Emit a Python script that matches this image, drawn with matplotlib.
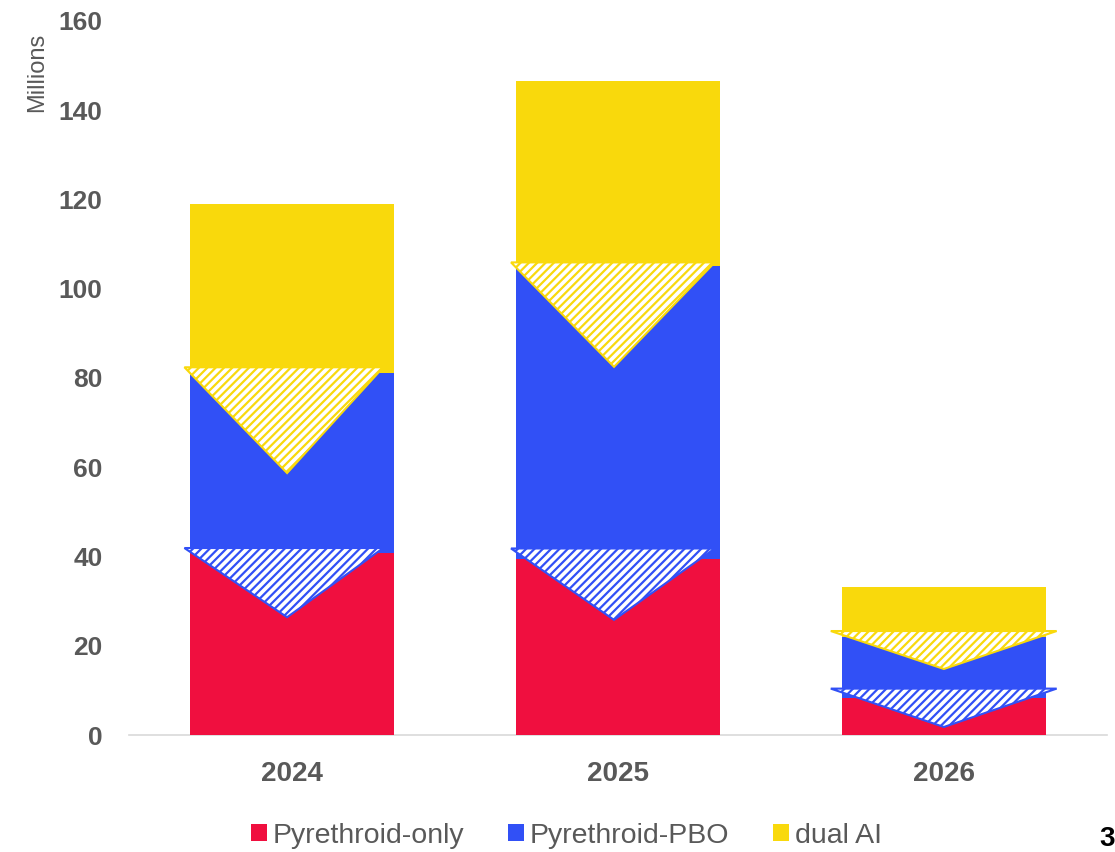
import matplotlib.pyplot as plt
from matplotlib.patches import Patch, Polygon
import numpy as np

plt.rcParams['font.family'] = ['Liberation Sans', 'DejaVu Sans']
plt.rcParams['hatch.linewidth'] = 1.6

# data (millions)
years = ['2024', '2025', '2026']
pyr_only = [40.8, 39.4, 8.4]
pyr_pbo = [40.3, 65.7, 13.6]
dual_ai = [37.9, 41.5, 11.2]

# hatched downward triangles (top value, apex value)
pbo_tri_top = [41.9, 41.8, 10.4]
pbo_tri_apex = [26.4, 25.8, 1.8]
dual_tri_top = [82.4, 105.9, 23.3]
dual_tri_apex = [58.7, 82.5, 14.8]

series_names = ['Pyrethroid-only', 'Pyrethroid-PBO', 'dual AI']
yticks = [0, 20, 40, 60, 80, 100, 120, 140, 160]

RED = '#F00F3F'
BLUE = '#3150F6'
YELLOW = '#F9D90C'
GREY = '#595959'

# triangle horizontal layout relative to bar centre
tri_left = [-0.33, -0.328, -0.347]
tri_right = [0.28, 0.297, 0.346]
tri_mid = [-0.015, -0.012, 0.0]

fig = plt.figure(figsize=(11.15, 8.52), dpi=100)
ax = fig.add_axes([0.1157, 0.1373, 0.877, 0.8381])

x = np.arange(len(years))
w = 0.625
b1 = np.array(pyr_only)
b2 = b1 + np.array(pyr_pbo)
ax.bar(x, pyr_only, w, color=RED, zorder=2)
ax.bar(x, pyr_pbo, w, bottom=b1, color=BLUE, zorder=2)
ax.bar(x, dual_ai, w, bottom=b2, color=YELLOW, zorder=2)

for tops, apexes, col in [(pbo_tri_top, pbo_tri_apex, BLUE),
                          (dual_tri_top, dual_tri_apex, YELLOW)]:
    for i in range(len(years)):
        pts = [(x[i] + tri_left[i], tops[i]),
               (x[i] + tri_right[i], tops[i]),
               (x[i] + tri_mid[i], apexes[i])]
        ax.add_patch(Polygon(pts, closed=True, facecolor='white',
                             edgecolor=col, hatch='////', lw=1.5, zorder=3))

ax.set_xlim(-0.5, 2.5)
ax.set_ylim(0, 160)
ax.set_yticks(yticks)
ax.set_xticks(x)
ax.set_xticklabels(years, fontsize=20, fontweight='bold', color=GREY)
ax.tick_params(axis='x', length=0, pad=19)
ax.tick_params(axis='y', length=0, pad=19, labelsize=19, labelcolor=GREY)
for lab in ax.get_yticklabels():
    lab.set_fontweight('bold')

for s in ['top', 'right', 'left']:
    ax.spines[s].set_visible(False)
ax.spines['bottom'].set_color('#D9D9D9')
ax.spines['bottom'].set_linewidth(1.2)
ax.spines['bottom'].set_zorder(1)

fig.text(0.033, 1 - 72 / 852, 'Millions', rotation=90, fontsize=17,
         color=GREY, ha='center', va='center')

handles = [Patch(facecolor=c, edgecolor='none') for c in [RED, BLUE, YELLOW]]
fig.legend(handles, series_names, loc='center', bbox_to_anchor=(0.508, 0.019),
           ncol=3, frameon=False, fontsize=20.5, labelcolor=GREY,
           handlelength=0.55, handleheight=0.55, handletextpad=0.2,
           columnspacing=1.55, borderaxespad=0)

fig.text(1099 / 1115, 0.5 / 852, '3', fontsize=20, fontweight='bold',
         color='black', ha='left', va='bottom')

plt.savefig('out.png', dpi=100)
